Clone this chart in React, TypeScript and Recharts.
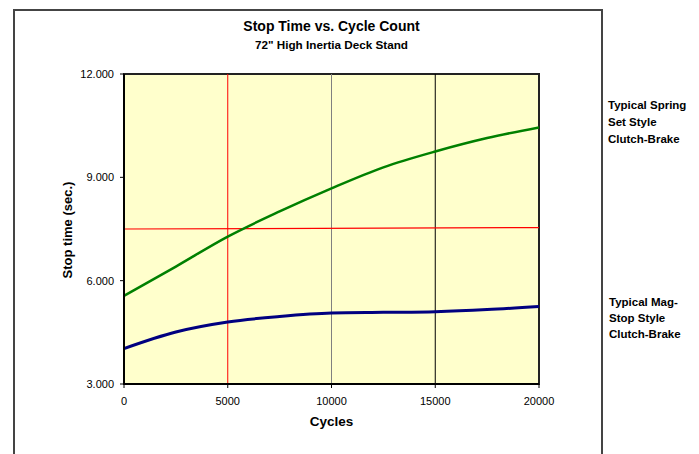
import { ComposedChart, Line, XAxis, YAxis, ReferenceLine, ReferenceArea } from 'recharts'

const cycles = [0, 2500, 5000, 7500, 10000, 12500, 15000, 17500, 20000]
const springSet = [5560, 6410, 7280, 8010, 8680, 9290, 9750, 10140, 10450]
const magStop = [4030, 4510, 4800, 4960, 5060, 5080, 5100, 5160, 5250]
const limitCycles = [0, 20000]
const limitValues = [7500, 7540]
const xTicks = [0, 5000, 10000, 15000, 20000]
const yTicks = [3000, 6000, 9000, 12000]
const markerCycles = [5000, 10000, 15000]
const markerColors = ['#ff0000', '#808080', '#000000']

const data = cycles.map((c, i) => ({ cycles: c, spring: springSet[i], mag: magStop[i] }))
const limitData = limitCycles.map((c, i) => ({ cycles: c, limit: limitValues[i] }))

const boldText = { position: 'absolute' as const, fontFamily: '"Liberation Sans", Arial, sans-serif', fontWeight: 700, color: '#000', whiteSpace: 'nowrap' as const }

export default function App() {
  return (
    <div style={{ position: 'absolute', left: 0, top: 0, width: 699, height: 454, background: '#fff', overflow: 'hidden' }}>
      {/* outer frame */}
      <div style={{ position: 'absolute', left: 13, top: 9, width: 590, height: 460, border: '2px solid #444', boxSizing: 'border-box' }} />

      <div style={{ ...boldText, left: 0, width: 663, top: 18, textAlign: 'center', fontSize: 14 }}>Stop Time vs. Cycle Count</div>
      <div style={{ ...boldText, left: 0, width: 663, top: 38, textAlign: 'center', fontSize: 11.7 }}>72" High Inertia Deck Stand</div>

      <div
        style={{ ...boldText, left: 67, top: 230, fontSize: 13, transform: 'translate(-50%, -50%) rotate(-90deg)' }}
      >
        Stop time (sec.)
      </div>
      <div style={{ ...boldText, left: 0, width: 663, top: 414, textAlign: 'center', fontSize: 13.5 }}>Cycles</div>

      <div style={{ ...boldText, left: 608, top: 97, fontSize: 11.5, lineHeight: '17px' }}>
        Typical Spring<br />Set Style<br />Clutch-Brake
      </div>
      <div style={{ ...boldText, left: 609, top: 294, fontSize: 11.5, lineHeight: '16px' }}>
        Typical Mag-<br />Stop Style<br />Clutch-Brake
      </div>

      <div style={{ position: 'absolute', left: 0, top: 0 }}>
        <ComposedChart width={699} height={454} data={data} margin={{ top: 74, right: 160, bottom: 40, left: 64 }}>
          <XAxis
            dataKey="cycles"
            type="number"
            domain={[0, 20000]}
            ticks={xTicks}
            allowDataOverflow
            height={30}
            tickSize={4}
            tickMargin={9}
            tick={{ fill: '#000', fontSize: 11, fontFamily: '"Liberation Sans", Arial, sans-serif' }}
            axisLine={{ stroke: '#000', strokeWidth: 2 }}
            tickLine={{ stroke: '#000' }}
          />
          <YAxis
            type="number"
            domain={[3000, 12000]}
            ticks={yTicks}
            width={60}
            tickSize={4}
            tickMargin={6}
            tickFormatter={(v: number) => (v / 1000).toFixed(3)}
            tick={{ fill: '#000', fontSize: 11, fontFamily: '"Liberation Sans", Arial, sans-serif' }}
            axisLine={{ stroke: '#000', strokeWidth: 2 }}
            tickLine={{ stroke: '#000' }}
          />
          <ReferenceArea x1={0} x2={20000} y1={3000} y2={12000} fill="#ffffcc" fillOpacity={1} stroke="#222" strokeWidth={2} />
          {markerCycles.map((c, i) => (
            <ReferenceLine key={c} x={c} stroke={markerColors[i]} strokeWidth={1} />
          ))}
          <Line data={limitData} dataKey="limit" type="linear" stroke="#ff0000" strokeWidth={1.2} dot={false} isAnimationActive={false} />
          <Line dataKey="spring" type="monotone" stroke="#008000" strokeWidth={2.5} dot={false} isAnimationActive={false} />
          <Line dataKey="mag" type="monotone" stroke="#000080" strokeWidth={3} dot={false} isAnimationActive={false} />
        </ComposedChart>
      </div>
    </div>
  )
}
